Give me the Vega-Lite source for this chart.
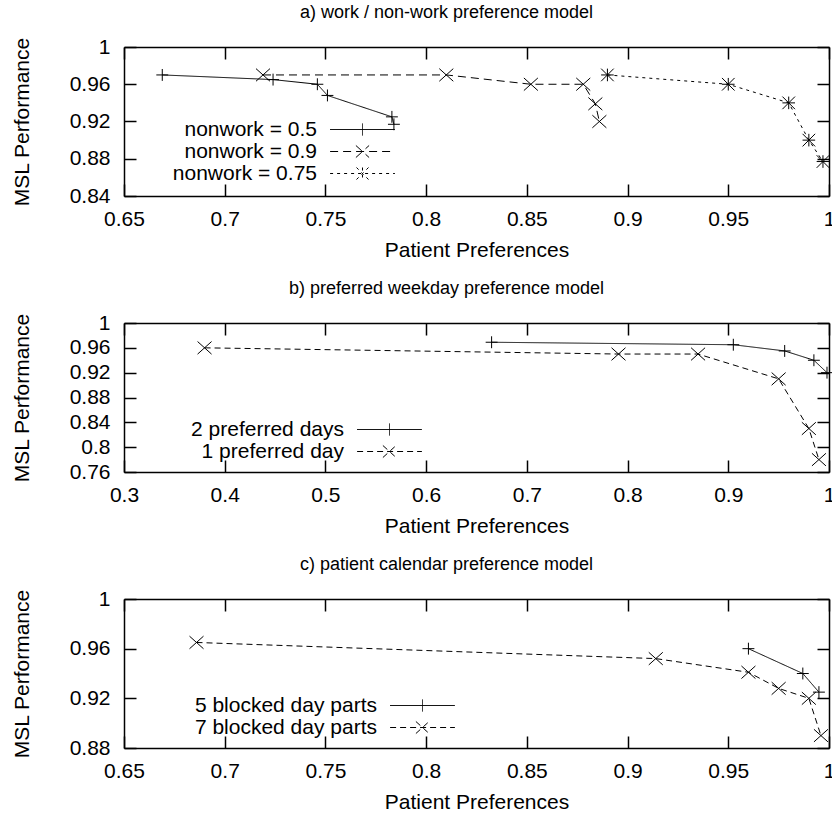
{
  "$schema": "https://vega.github.io/schema/vega-lite/v6.json",
  "background": "white",
  "padding": {"left": 11, "top": 4, "right": 2, "bottom": 2},
  "config": {
    "font": "Liberation Sans",
    "view": {"stroke": null},
    "axis": {
      "grid": false,
      "domainColor": "black",
      "domainWidth": 1.5,
      "tickColor": "black",
      "tickWidth": 1.5,
      "tickSize": -12,
      "labelFontSize": 21,
      "labelColor": "black",
      "labelFont": "Liberation Sans",
      "labelFlush": false,
      "labelOverlap": false,
      "titleFontSize": 21,
      "titleFontWeight": "normal",
      "titleColor": "black",
      "titleFont": "Liberation Sans",
      "format": "~g"
    },
    "axisX": {"labelPadding": 24, "titlePadding": 10},
    "axisY": {"labelPadding": 26, "titlePadding": 37},
    "title": {"fontSize": 18, "fontWeight": "normal", "font": "Liberation Sans", "color": "black", "offset": 14, "dx": -30},
    "legend": {
      "orient": "none",
      "title": null,
      "labelFontSize": 21,
      "labelFont": "Liberation Sans",
      "labelColor": "black",
      "labelAlign": "right",
      "labelOffset": -56,
      "labelLimit": 0,
      "symbolSize": 144,
      "symbolStrokeColor": "black",
      "symbolStrokeWidth": 1,
      "symbolFillColor": "transparent",
      "rowPadding": 0
    }
  },
  "datasets": {
    "a": [
      {"series": "nonwork = 0.5", "pref": 0.669, "msl": 0.97},
      {"series": "nonwork = 0.5", "pref": 0.724, "msl": 0.965},
      {"series": "nonwork = 0.5", "pref": 0.746, "msl": 0.96},
      {"series": "nonwork = 0.5", "pref": 0.751, "msl": 0.948},
      {"series": "nonwork = 0.5", "pref": 0.783, "msl": 0.925},
      {"series": "nonwork = 0.5", "pref": 0.784, "msl": 0.917},
      {"series": "nonwork = 0.9", "pref": 0.719, "msl": 0.97},
      {"series": "nonwork = 0.9", "pref": 0.81, "msl": 0.97},
      {"series": "nonwork = 0.9", "pref": 0.852, "msl": 0.96},
      {"series": "nonwork = 0.9", "pref": 0.878, "msl": 0.96},
      {"series": "nonwork = 0.9", "pref": 0.884, "msl": 0.939},
      {"series": "nonwork = 0.9", "pref": 0.886, "msl": 0.92},
      {"series": "nonwork = 0.75", "pref": 0.89, "msl": 0.97},
      {"series": "nonwork = 0.75", "pref": 0.95, "msl": 0.96},
      {"series": "nonwork = 0.75", "pref": 0.98, "msl": 0.94},
      {"series": "nonwork = 0.75", "pref": 0.99, "msl": 0.9},
      {"series": "nonwork = 0.75", "pref": 0.997, "msl": 0.877}
    ],
    "b": [
      {"series": "2 preferred days", "pref": 0.665, "msl": 0.969},
      {"series": "2 preferred days", "pref": 0.905, "msl": 0.965},
      {"series": "2 preferred days", "pref": 0.956, "msl": 0.955},
      {"series": "2 preferred days", "pref": 0.985, "msl": 0.94},
      {"series": "2 preferred days", "pref": 0.998, "msl": 0.92},
      {"series": "1 preferred day", "pref": 0.38, "msl": 0.96},
      {"series": "1 preferred day", "pref": 0.791, "msl": 0.95},
      {"series": "1 preferred day", "pref": 0.87, "msl": 0.95},
      {"series": "1 preferred day", "pref": 0.95, "msl": 0.91},
      {"series": "1 preferred day", "pref": 0.98, "msl": 0.83},
      {"series": "1 preferred day", "pref": 0.99, "msl": 0.78}
    ],
    "c": [
      {"series": "5 blocked day parts", "pref": 0.96, "msl": 0.96},
      {"series": "5 blocked day parts", "pref": 0.987, "msl": 0.94},
      {"series": "5 blocked day parts", "pref": 0.995, "msl": 0.925},
      {"series": "7 blocked day parts", "pref": 0.686, "msl": 0.965},
      {"series": "7 blocked day parts", "pref": 0.914, "msl": 0.952},
      {"series": "7 blocked day parts", "pref": 0.96, "msl": 0.941},
      {"series": "7 blocked day parts", "pref": 0.975, "msl": 0.928},
      {"series": "7 blocked day parts", "pref": 0.99, "msl": 0.92},
      {"series": "7 blocked day parts", "pref": 0.996, "msl": 0.89}
    ]
  },
  "spacing": 20,
  "resolve": {"scale": {"strokeDash": "independent"}, "legend": {"strokeDash": "independent"}},
  "vconcat": [
    {
      "width": 705,
      "height": 149,
      "title": "a) work / non-work preference model",
      "data": {"name": "a"},
      "layer": [
        {
          "mark": {"type": "line", "color": "black", "strokeWidth": 1},
          "encoding": {
            "x": {"field": "pref", "type": "quantitative", "scale": {"domain": [0.65, 1], "nice": false, "zero": false},
                  "axis": {"orient": "bottom", "title": "Patient Preferences", "values": [0.65, 0.7, 0.75, 0.8, 0.85, 0.9, 0.95, 1]}},
            "y": {"field": "msl", "type": "quantitative", "scale": {"domain": [0.84, 1], "nice": false, "zero": false},
                  "axis": {"orient": "left", "title": "MSL Performance", "values": [0.84, 0.88, 0.92, 0.96, 1]}},
            "strokeDash": {"field": "series", "type": "nominal",
              "scale": {"domain": ["nonwork = 0.5", "nonwork = 0.9", "nonwork = 0.75"], "range": [[1, 0], [8, 5], [3, 4]]},
              "legend": {"legendX": 228, "legendY": 72,
                "encode": {"symbols": {"update": {"shape": {"signal": "datum.value === 'nonwork = 0.5' ? 'M-5.4,0H5.4M0,-1V1' : datum.value === 'nonwork = 0.9' ? 'M-5.4,0H5.4M-1.1,-1L1.1,1M-1.1,1L1.1,-1' : 'M-5.4,0H5.4M0,-1V1M-1,-1L1,1M-1,1L1,-1'"}}}}}}
          }
        },
        {
          "transform": [{"filter": {"field": "series", "equal": "nonwork = 0.5"}}],
          "mark": {"type": "point", "color": "black", "filled": false, "strokeWidth": 1, "size": 196, "opacity": 1, "shape": "M-0.85,0H0.85M0,-0.85V0.85"},
          "encoding": {
            "x": {"field": "pref", "type": "quantitative", "axis": {"orient": "top", "labels": false, "title": null, "values": [0.65, 0.7, 0.75, 0.8, 0.85, 0.9, 0.95, 1]}},
            "y": {"field": "msl", "type": "quantitative", "axis": {"orient": "right", "labels": false, "title": null, "values": [0.84, 0.88, 0.92, 0.96, 1]}}
          }
        },
        {
          "transform": [{"filter": {"field": "series", "equal": "nonwork = 0.9"}}],
          "mark": {"type": "point", "color": "black", "filled": false, "strokeWidth": 1, "size": 196, "opacity": 1, "shape": "M-1,-0.9L1,0.9M-1,0.9L1,-0.9"},
          "encoding": {
            "x": {"field": "pref", "type": "quantitative", "axis": null},
            "y": {"field": "msl", "type": "quantitative", "axis": null}
          }
        },
        {
          "transform": [{"filter": {"field": "series", "equal": "nonwork = 0.75"}}],
          "mark": {"type": "point", "color": "black", "filled": false, "strokeWidth": 1, "size": 196, "opacity": 1, "shape": "M-0.9,0H0.9M0,-0.9V0.9M-0.9,-0.9L0.9,0.9M-0.9,0.9L0.9,-0.9"},
          "encoding": {
            "x": {"field": "pref", "type": "quantitative", "axis": null},
            "y": {"field": "msl", "type": "quantitative", "axis": null}
          }
        }
      ],
      "resolve": {"axis": {"x": "independent", "y": "independent"}}
    },
    {
      "width": 705,
      "height": 149,
      "title": "b) preferred weekday preference model",
      "data": {"name": "b"},
      "layer": [
        {
          "mark": {"type": "line", "color": "black", "strokeWidth": 1},
          "encoding": {
            "x": {"field": "pref", "type": "quantitative", "scale": {"domain": [0.3, 1], "nice": false, "zero": false},
                  "axis": {"orient": "bottom", "title": "Patient Preferences", "values": [0.3, 0.4, 0.5, 0.6, 0.7, 0.8, 0.9, 1]}},
            "y": {"field": "msl", "type": "quantitative", "scale": {"domain": [0.76, 1], "nice": false, "zero": false},
                  "axis": {"orient": "left", "title": "MSL Performance", "values": [0.76, 0.8, 0.84, 0.88, 0.92, 0.96, 1]}},
            "strokeDash": {"field": "series", "type": "nominal",
              "scale": {"domain": ["2 preferred days", "1 preferred day"], "range": [[1, 0], [6, 4]]},
              "legend": {"legendX": 255, "legendY": 96,
                "encode": {"symbols": {"update": {"shape": {"signal": "datum.value === '2 preferred days' ? 'M-5.4,0H5.4M0,-1V1' : 'M-5.4,0H5.4M-1.1,-1L1.1,1M-1.1,1L1.1,-1'"}}}}}}
          }
        },
        {
          "transform": [{"filter": {"field": "series", "equal": "2 preferred days"}}],
          "mark": {"type": "point", "color": "black", "filled": false, "strokeWidth": 1, "size": 196, "opacity": 1, "shape": "M-0.85,0H0.85M0,-0.85V0.85"},
          "encoding": {
            "x": {"field": "pref", "type": "quantitative", "axis": {"orient": "top", "labels": false, "title": null, "values": [0.3, 0.4, 0.5, 0.6, 0.7, 0.8, 0.9, 1]}},
            "y": {"field": "msl", "type": "quantitative", "axis": {"orient": "right", "labels": false, "title": null, "values": [0.76, 0.8, 0.84, 0.88, 0.92, 0.96, 1]}}
          }
        },
        {
          "transform": [{"filter": {"field": "series", "equal": "1 preferred day"}}],
          "mark": {"type": "point", "color": "black", "filled": false, "strokeWidth": 1, "size": 196, "opacity": 1, "shape": "M-1,-0.9L1,0.9M-1,0.9L1,-0.9"},
          "encoding": {
            "x": {"field": "pref", "type": "quantitative", "axis": null},
            "y": {"field": "msl", "type": "quantitative", "axis": null}
          }
        }
      ],
      "resolve": {"axis": {"x": "independent", "y": "independent"}}
    },
    {
      "width": 705,
      "height": 149,
      "title": "c) patient calendar preference model",
      "data": {"name": "c"},
      "layer": [
        {
          "mark": {"type": "line", "color": "black", "strokeWidth": 1},
          "encoding": {
            "x": {"field": "pref", "type": "quantitative", "scale": {"domain": [0.65, 1], "nice": false, "zero": false},
                  "axis": {"orient": "bottom", "title": "Patient Preferences", "values": [0.65, 0.7, 0.75, 0.8, 0.85, 0.9, 0.95, 1]}},
            "y": {"field": "msl", "type": "quantitative", "scale": {"domain": [0.88, 1], "nice": false, "zero": false},
                  "axis": {"orient": "left", "title": "MSL Performance", "values": [0.88, 0.92, 0.96, 1]}},
            "strokeDash": {"field": "series", "type": "nominal",
              "scale": {"domain": ["5 blocked day parts", "7 blocked day parts"], "range": [[1, 0], [6, 4]]},
              "legend": {"legendX": 288, "legendY": 96,
                "encode": {"symbols": {"update": {"shape": {"signal": "datum.value === '5 blocked day parts' ? 'M-5.4,0H5.4M0,-1V1' : 'M-5.4,0H5.4M-1.1,-1L1.1,1M-1.1,1L1.1,-1'"}}}}}}
          }
        },
        {
          "transform": [{"filter": {"field": "series", "equal": "5 blocked day parts"}}],
          "mark": {"type": "point", "color": "black", "filled": false, "strokeWidth": 1, "size": 196, "opacity": 1, "shape": "M-0.85,0H0.85M0,-0.85V0.85"},
          "encoding": {
            "x": {"field": "pref", "type": "quantitative", "axis": {"orient": "top", "labels": false, "title": null, "values": [0.65, 0.7, 0.75, 0.8, 0.85, 0.9, 0.95, 1]}},
            "y": {"field": "msl", "type": "quantitative", "axis": {"orient": "right", "labels": false, "title": null, "values": [0.88, 0.92, 0.96, 1]}}
          }
        },
        {
          "transform": [{"filter": {"field": "series", "equal": "7 blocked day parts"}}],
          "mark": {"type": "point", "color": "black", "filled": false, "strokeWidth": 1, "size": 196, "opacity": 1, "shape": "M-1,-0.9L1,0.9M-1,0.9L1,-0.9"},
          "encoding": {
            "x": {"field": "pref", "type": "quantitative", "axis": null},
            "y": {"field": "msl", "type": "quantitative", "axis": null}
          }
        }
      ],
      "resolve": {"axis": {"x": "independent", "y": "independent"}}
    }
  ]
}
